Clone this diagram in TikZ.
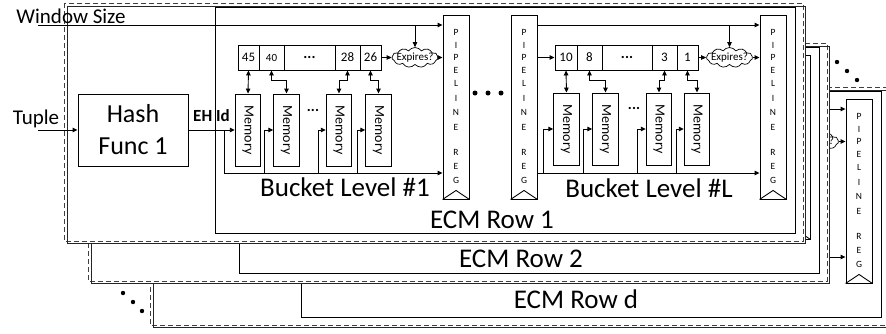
\documentclass[tikz,border=0pt]{standalone}
\usepackage{fontspec}
\setmainfont{Carlito}
\usepackage{graphicx}
\usetikzlibrary{arrows.meta,shapes.symbols}

\tikzset{
  ln/.style={line width=0.9pt},
  arr/.style={line width=0.9pt,-{Triangle[length=5pt,width=4.5pt]}},
  darr/.style={line width=0.9pt,{Triangle[length=5pt,width=4.5pt]}-{Triangle[length=5pt,width=4.5pt]}},
  membox/.style={draw,line width=0.9pt,fill=white,minimum width=25.5pt,minimum height=72pt,inner sep=0pt},
  cellbox/.style={draw,line width=0.9pt,minimum height=25pt,inner sep=0pt,font=\fontsize{13}{13}\selectfont},
  pregbox/.style={draw,line width=0.9pt,fill=white,minimum width=26pt,minimum height=184pt,inner sep=0pt},
  cloudbox/.style={cloud,draw,line width=0.7pt,fill=white,cloud puffs=11,cloud puff arc=110,cloud ignores aspect,minimum width=46pt,minimum height=20pt,inner sep=0pt},
  bigtxt/.style={font=\fontsize{27}{30}\selectfont,inner sep=0pt,anchor=base},
  dashbox/.style={line width=0.9pt,draw=black!75,dash pattern=on 5pt off 3pt},
  shadbox/.style={line width=0.9pt,draw=black!85},
  regletter/.style={font=\fontsize{9.5}{10}\selectfont,inner sep=0pt},
  dotstxt/.style={font=\bfseries\fontsize{15}{15}\selectfont,inner sep=0pt},
  memtxt/.style={font=\fontsize{14}{14}\selectfont},
}

% pipeline register: #1 name, #2 centre x
\newcommand{\pipereg}[2]{%
  \node[pregbox] (#1) at (#2,107) {};
  \draw[ln] (#1.south west) -- ([yshift=9pt]#1.south) -- (#1.south east);
  \foreach \lt/\yy in {P/18,I/31,P/43,E/56,L/69,I/84,N/98,E/113,R/138,E/152,G/166}
    \node[regletter] at ([yshift=-\yy pt]#1.north) {\lt};
}
\newcommand{\memtext}{\rotatebox{-90}{\fontsize{14}{14}\selectfont Memory}}

% one ECM row: #1 dx, #2 dy, #3 label, #4 prefix, #5 window-line start x,
% #6 label x, #7 label baseline y, #8 full content (1) or only the visible right end (0)
\newcommand{\ecmrow}[8]{%
\begin{scope}[shift={(#1,#2)}]
  \fill[white] (64,3) rectangle (805,243);
  \draw[dashbox] (64,3) rectangle (803,241);
  \draw[shadbox] (67,6) rectangle (805,243);
  \draw[ln] (215,7) rectangle (795,233);
  \node[bigtxt] (#4lab) at (#6,#7) {#3};
  \pipereg{#4p3}{773}
  \coordinate (#4w0) at (#5,25);
  \coordinate (#4b1) at (224,173);
  \node[cloudbox] (#4y1) at (729.5,57.5) {};
  \node[font=\fontsize{11}{11}\selectfont,inner sep=0pt] (#4yt1) at (#4y1) {Expires?};
  \draw[arr] (#4y1.east) -- (#4y1.east -| #4p3.west);
  \ifnum#8=1
  \node[draw,line width=0.9pt,minimum width=110pt,minimum height=72pt,align=center,inner sep=0pt,
        font=\fontsize{26}{32}\selectfont] (#4hash) at (133,130) {Hash\\Func 1};
  \node[font=\bfseries\fontsize{17}{17}\selectfont,inner sep=0pt,anchor=base] (#4eh) at (211.5,121.5) {EH Id};
  \pipereg{#4p1}{456}
  \pipereg{#4p2}{524}
  % ---- bucket level 1 ----
  \node[cellbox,minimum width=21pt] (#4a1) at (248.5,57.5) {45};
  \node[cellbox,minimum width=25pt,font=\fontsize{11}{11}\selectfont] (#4a2) at (271.5,57.5) {40};
  \node[cellbox,minimum width=51pt,dotstxt] (#4a3) at (309.5,57.5) {...};
  \node[cellbox,minimum width=25pt] (#4a4) at (347.5,57.5) {28};
  \node[cellbox,minimum width=21pt] (#4a5) at (370.5,57.5) {26};
  \node[membox] (#4m1) at (248,130) {\memtext};
  \node[membox] (#4m2) at (286.5,130) {\memtext};
  \node[membox] (#4m3) at (339,130) {\memtext};
  \node[membox] (#4m4) at (378.5,130) {\memtext};
  \node[dotstxt] (#4md) at (313,110) {...};
  \node[cloudbox] (#4x1) at (415,57.5) {};
  \node[font=\fontsize{11}{11}\selectfont,inner sep=0pt] (#4xt1) at (#4x1) {Expires?};
  \node[bigtxt] (#4bl1) at (345,196) {Bucket Level \#1};
  \draw[arr] (#4w0) -- (#4w0 -| #4p1.west);
  \draw[arr] (#4x1.north |- #4w0) -- (#4x1.north);
  \draw[arr] (#4a5.east) -- (#4x1.west);
  \draw[arr] (#4x1.east) -- (#4x1.east -| #4p1.west);
  \draw[darr] (#4a1.south) -- (#4m1.north);
  \draw[darr] (#4a2.south) -- ++(0,10) -| (#4m2.north);
  \draw[darr] (#4a4.south) -- ++(0,10) -| (#4m3.north);
  \draw[darr] (#4a5.south) -- ++(0,10) -| (#4m4.north);
  \draw[arr] (#4hash.east) -- (#4hash.east -| #4m1.west);
  \coordinate (#4j1) at (224,130);
  \draw[ln] (#4j1) -- (#4b1);
  \draw[arr] (#4b1) -- (#4b1 -| #4p1.west);
  \foreach \xx/\mm in {264/2,318/3,357/4} \draw[arr] (\xx,173) |- (#4m\mm.west);
  % dots between levels
  \foreach \xx in {475,488,501} \fill (\xx,93) circle[radius=2.5pt];
  % ---- bucket level L ----
  \node[cellbox,minimum width=22pt] (#4c1) at (566,57.5) {10};
  \node[cellbox,minimum width=25pt] (#4c2) at (589.5,57.5) {8};
  \node[cellbox,minimum width=50pt,dotstxt] (#4c3) at (627,57.5) {...};
  \node[cellbox,minimum width=25pt] (#4c4) at (664.5,57.5) {3};
  \node[cellbox,minimum width=21pt] (#4c5) at (687.5,57.5) {1};
  \node[membox] (#4n1) at (566.5,129) {\memtext};
  \node[membox] (#4n2) at (605.5,129) {\memtext};
  \node[membox] (#4n3) at (659,129) {\memtext};
  \node[membox] (#4n4) at (697,129) {\memtext};
  \node[dotstxt] (#4nd) at (634,108) {...};
  \node[bigtxt] (#4bl2) at (649,197) {Bucket Level \#L};
  \draw[arr] (#4p2.east |- #4w0) -- (#4w0 -| #4p3.west);
  \draw[arr] (#4y1.north |- #4w0) -- (#4y1.north);
  \draw[arr] (#4p2.east |- #4c1.west) -- (#4c1.west);
  \draw[arr] (#4c5.east) -- (#4y1.west);
  \draw[darr] (#4c1.south) -- (#4n1.north);
  \draw[darr] (#4c2.south) -- ++(0,10) -| (#4n2.north);
  \draw[darr] (#4c4.south) -- ++(0,10) -| (#4n3.north);
  \draw[darr] (#4c5.south) -- ++(0,10) -| (#4n4.north);
  \draw[arr] (#4p2.east |- #4b1) -- (#4b1 -| #4p3.west);
  \foreach \xx/\mm in {543/1,583/2,637/3,676/4} \draw[arr] (\xx,173) |- (#4n\mm.west);
  \else
  \draw[arr] (#4y1.north |- #4w0) -- (#4w0 -| #4p3.west);
  \draw[arr] (#4y1.north |- #4w0) -- (#4y1.north);
  \draw[arr] (#4y1.north |- #4b1) -- (#4b1 -| #4p3.west);
  \fi
\end{scope}}

\begin{document}
\begin{tikzpicture}[x=1pt,y=-1pt]
\useasboundingbox (0,0) rectangle (886,333);
\ecmrow{86}{84}{ECM Row d}{c}{100}{490}{224}{0}
\ecmrow{24}{40}{ECM Row 2}{b}{100}{497}{227}{0}
\ecmrow{0}{0}{ECM Row 1}{a}{38}{492}{228}{1}
% inputs of row 1
\node[font=\fontsize{21}{21}\selectfont,inner sep=0pt,anchor=base] (ws) at (71,23) {Window Size};
\node[font=\fontsize{21}{21}\selectfont,inner sep=0pt,anchor=base] (tup) at (36,124) {Tuple};
\coordinate (t0) at (38,130);
\draw[arr] (t0) -- (t0 -| ahash.west);
% stacking dots
\foreach \xx/\yy in {837/62,847/71,857/80,123/293,133/302,142/311}
  \fill (\xx,\yy) circle[radius=2.2pt];
\end{tikzpicture}
\end{document}
